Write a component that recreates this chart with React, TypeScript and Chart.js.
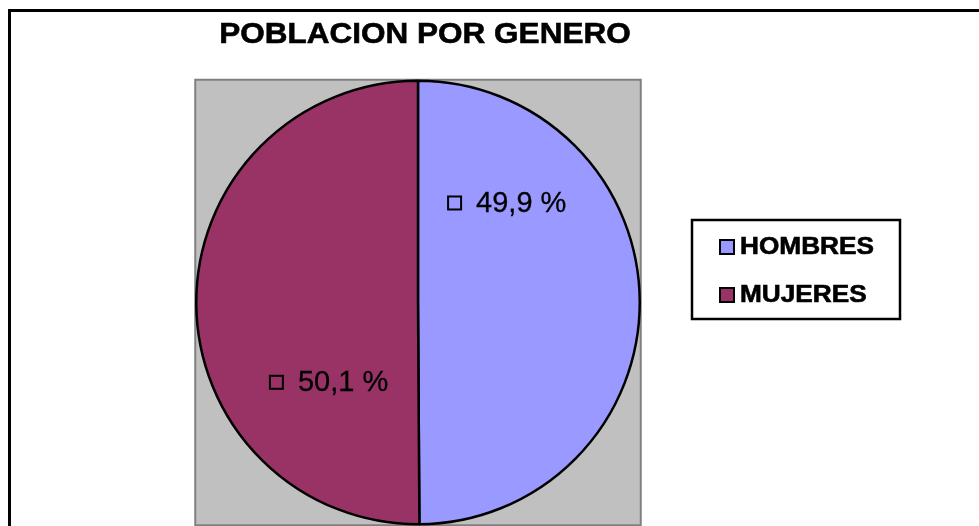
import React, { useEffect, useRef } from "react";
import { Chart, registerables } from "chart.js";

Chart.register(...registerables);

const categories = ["HOMBRES", "MUJERES"];
const percentages = [49.9, 50.1];
const sliceColors = ["#9999FF", "#993366"];
const chartTitle = "POBLACION POR GENERO";

const FONT = "'Liberation Sans', Arial, sans-serif";

const fmt = (v: number) => v.toFixed(1).replace(".", ",") + " %";

const excelPlugin = {
  id: "excelLook",
  beforeDraw(chart: any) {
    const ctx = chart.ctx as CanvasRenderingContext2D;
    ctx.save();
    ctx.fillStyle = "#ffffff";
    ctx.fillRect(0, 0, chart.width, chart.height);
    // outer chart frame
    ctx.strokeStyle = "#000000";
    ctx.lineWidth = 3;
    ctx.strokeRect(9.5, 10.5, chart.width + 20, chart.height + 20);
    // plot area (bounding box of the pie)
    const arc = chart.getDatasetMeta(0).data[0];
    if (arc) {
      const p = arc.getProps(["x", "y", "outerRadius"], true);
      const r = p.outerRadius + 1;
      ctx.fillStyle = "#C0C0C0";
      ctx.fillRect(p.x - r, p.y - r, 2 * r, 2 * r);
      ctx.strokeStyle = "#808080";
      ctx.lineWidth = 2;
      ctx.strokeRect(p.x - r, p.y - r, 2 * r, 2 * r);
    }
    // title
    ctx.save();
    ctx.translate(425, 43);
    ctx.scale(1.05, 1);
    ctx.fillStyle = "#000000";
    ctx.font = `bold 30px ${FONT}`;
    ctx.textAlign = "center";
    ctx.textBaseline = "alphabetic";
    ctx.fillText(chartTitle, 0, 0);
    ctx.lineWidth = 0.6;
    ctx.strokeStyle = "#000000";
    ctx.strokeText(chartTitle, 0, 0);
    ctx.restore();
    ctx.restore();
  },
  afterDatasetsDraw(chart: any) {
    const ctx = chart.ctx as CanvasRenderingContext2D;
    const meta = chart.getDatasetMeta(0);
    ctx.save();
    ctx.font = `29px ${FONT}`;
    ctx.textBaseline = "middle";
    ctx.textAlign = "left";
    meta.data.forEach((el: any, i: number) => {
      const p = el.getProps(["x", "y", "startAngle", "endAngle", "outerRadius"], true);
      const a = p.startAngle + 0.25 * (p.endAngle - p.startAngle);
      const rr = p.outerRadius * 0.57;
      const cx = p.x + Math.cos(a) * rr;
      const cy = p.y + Math.sin(a) * rr - 10;
      const text = fmt(percentages[i]);
      const tw = ctx.measureText(text).width;
      const sq = 13;
      const gap = 15;
      const total = sq + gap + tw;
      const left = cx - total / 2;
      ctx.strokeStyle = "#000000";
      ctx.lineWidth = 2;
      ctx.strokeRect(left, cy - sq / 2, sq, sq);
      ctx.fillStyle = "#000000";
      ctx.fillText(text, left + sq + gap, cy + 1);
      ctx.lineWidth = 0.3;
      ctx.strokeText(text, left + sq + gap, cy + 1);
    });
    ctx.restore();
  },
  afterDraw(chart: any) {
    const ctx = chart.ctx as CanvasRenderingContext2D;
    ctx.save();
    // legend box
    ctx.fillStyle = "#ffffff";
    ctx.fillRect(692, 220, 208, 99);
    ctx.strokeStyle = "#000000";
    ctx.lineWidth = 2.5;
    ctx.strokeRect(692, 220, 208, 99);
    const rows = [247, 295];
    const colors = chart.data.datasets[0].backgroundColor as string[];
    chart.data.labels.forEach((lab: string, i: number) => {
      const y = rows[i];
      ctx.fillStyle = colors[i];
      ctx.fillRect(720, y - 7, 14, 14);
      ctx.strokeStyle = "#000000";
      ctx.lineWidth = 2;
      ctx.strokeRect(720, y - 7, 14, 14);
      ctx.save();
      ctx.translate(740, y);
      ctx.scale(1.14, 1);
      ctx.font = `bold 23px ${FONT}`;
      ctx.fillStyle = "#000000";
      ctx.textBaseline = "middle";
      ctx.textAlign = "left";
      ctx.fillText(lab, 0, 1);
      ctx.lineWidth = 0.6;
      ctx.strokeStyle = "#000000";
      ctx.strokeText(lab, 0, 1);
      ctx.restore();
    });
    ctx.restore();
  },
};

export default function App() {
  const ref = useRef<HTMLCanvasElement | null>(null);
  useEffect(() => {
    if (!ref.current) return;
    const chart = new Chart(ref.current, {
      type: "pie",
      data: {
        labels: categories,
        datasets: [
          {
            data: percentages,
            backgroundColor: sliceColors,
            borderColor: "#000000",
            borderWidth: 2.5,
          },
        ],
      },
      options: {
        responsive: false,
        animation: false,
        layout: { padding: { left: 195, right: 338, top: 79, bottom: 0 } },
        plugins: {
          legend: { display: false },
          title: { display: false },
          tooltip: { enabled: false },
        },
      },
      plugins: [excelPlugin],
    });
    return () => chart.destroy();
  }, []);
  return (
    <div style={{ position: "absolute", left: 0, top: 0, width: 979, height: 526 }}>
      <canvas ref={ref} width={979} height={526} style={{ display: "block" }} />
    </div>
  );
}
